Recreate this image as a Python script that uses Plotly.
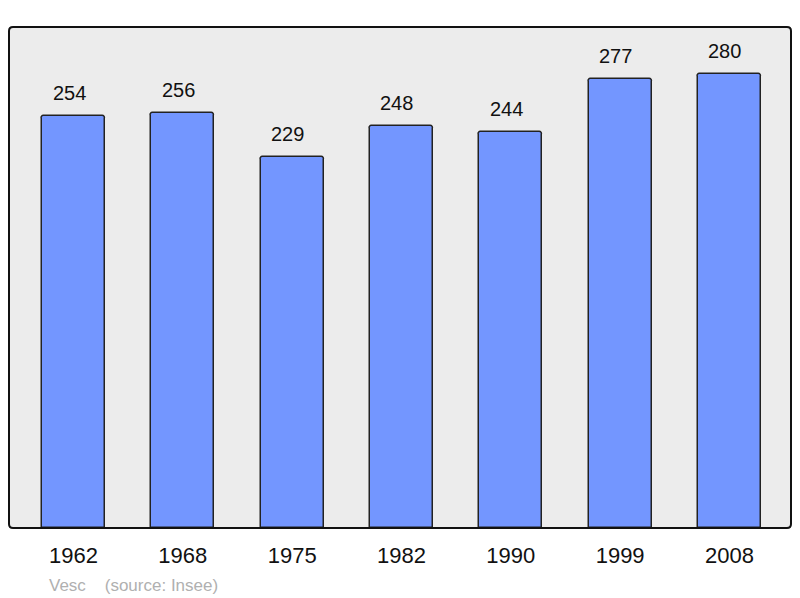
import plotly.graph_objects as go

years = ["1962", "1968", "1975", "1982", "1990", "1999", "2008"]
population = [254, 256, 229, 248, 244, 277, 280]
footer_name = "Vesc"
footer_source = "(source: Insee)"

FONT = "Liberation Sans, Arial, sans-serif"

fig = go.Figure()
fig.add_trace(go.Bar(
    x=list(range(len(years))),
    y=population,
    width=0.576,
    marker=dict(color="#7396ff", line=dict(color="#222222", width=1.5), cornerradius=3),
    hoverinfo="skip",
))

for i, v in enumerate(population):
    fig.add_annotation(x=i, y=v, text=str(v), showarrow=False, yanchor="bottom",
                       yshift=10, xshift=-4.5, font=dict(family=FONT, size=20, color="#111111"))

fig.add_annotation(xref="paper", yref="paper", x=0.0487, y=-0.1138, xanchor="left", yanchor="middle",
                   text=footer_name + "&nbsp;&nbsp;&nbsp;&nbsp;" + footer_source, showarrow=False,
                   font=dict(family=FONT, size=17, color="#b0b0b0"))

# rounded plot frame
rx, ry = 4 / 782, 4 / 501
path = (f"M {rx},0 L {1-rx},0 Q 1,0 1,{ry} L 1,{1-ry} Q 1,1 {1-rx},1 "
        f"L {rx},1 Q 0,1 0,{1-ry} L 0,{ry} Q 0,0 {rx},0 Z")
fig.add_shape(type="path", xref="paper", yref="paper", path=path,
              line=dict(color="#111111", width=2), layer="above")

fig.update_layout(
    width=792, height=590,
    margin=dict(l=1, r=9, t=19, b=70),
    paper_bgcolor="white",
    plot_bgcolor="#ececec",
    showlegend=False,
    bargap=0,
    xaxis=dict(range=[-0.59, 6.563], tickmode="array", tickvals=list(range(len(years))),
               ticktext=years, showgrid=False, zeroline=False, ticks="", ticklabelstandoff=12,
               tickfont=dict(family=FONT, size=22, color="#111111"), fixedrange=True),
    yaxis=dict(range=[0, 309], showgrid=False, zeroline=False, showticklabels=False, fixedrange=True),
)

fig.write_html("out.html")
